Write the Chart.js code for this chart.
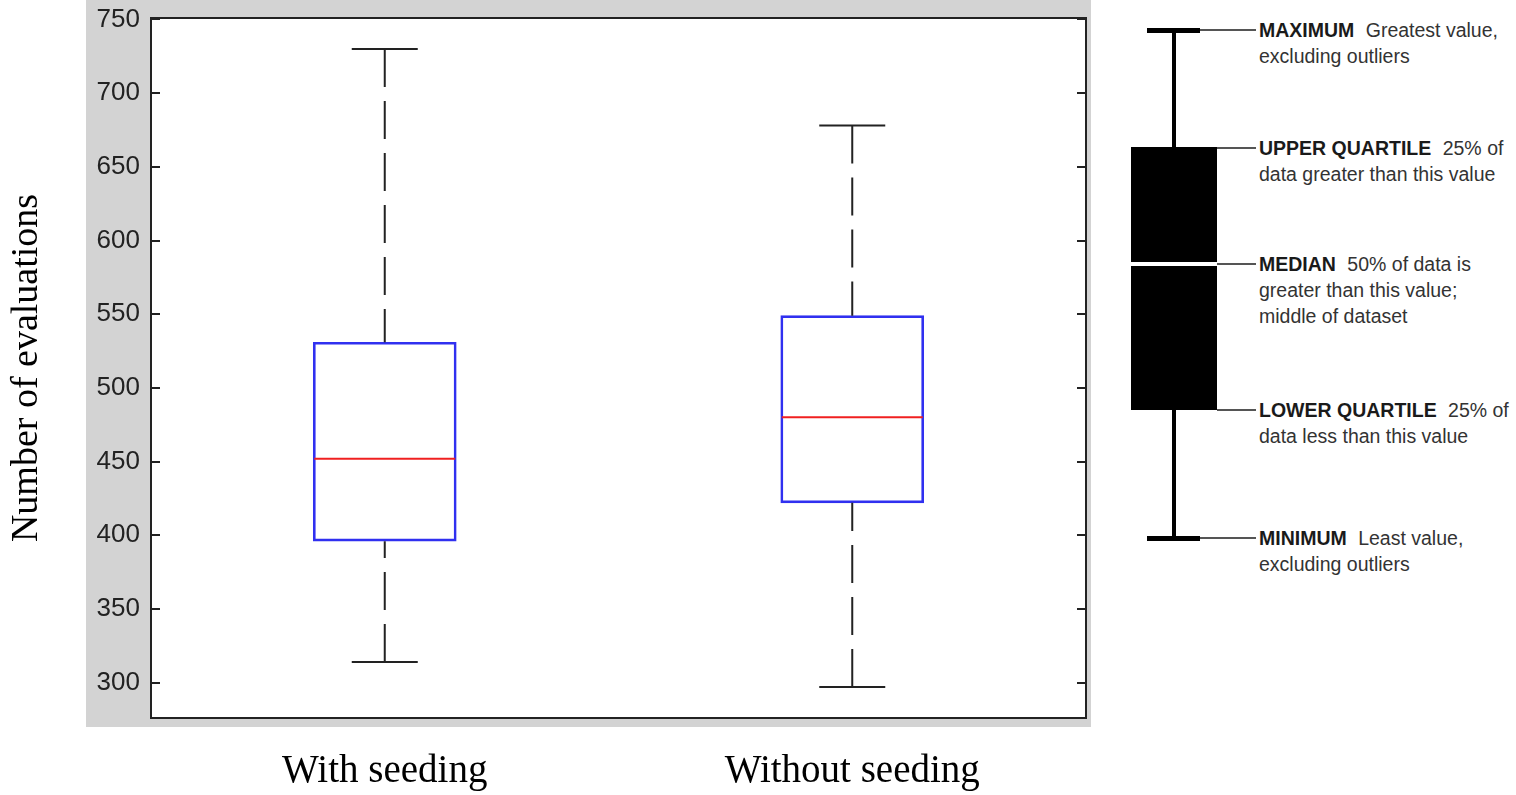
<!DOCTYPE html>
<html>
<head>
<meta charset="utf-8">
<script src="https://cdn.jsdelivr.net/npm/chart.js@4"></script>
<style>
  body { margin: 0; background: #fff; width: 1516px; height: 795px; overflow: hidden; position: relative; }
  #wrap { position: absolute; left: 0; top: 0; width: 1100px; height: 795px; }
  .key div { position: absolute; }
  .blk { background: #000; }
  .wire { background: #555; height: 2px; }
  .note { font-family: "Liberation Sans", Arial, sans-serif; font-size: 19.5px; line-height: 26px; color: #333; white-space: nowrap; }
  .note b { color: #1a1a1a; margin-right: 6px; }
</style>
</head>
<body>
<div id="wrap"><canvas id="myChart"></canvas></div>

<!-- box plot key on the right -->
<div class="key">
  <div class="blk" style="left:1172px;top:30px;width:4px;height:508px"></div>
  <div class="blk" style="left:1147px;top:28px;width:53px;height:5px"></div>
  <div class="blk" style="left:1147px;top:536px;width:53px;height:5px"></div>
  <div class="blk" style="left:1131px;top:147px;width:86px;height:263px"></div>
  <div style="left:1131px;top:262px;width:86px;height:4px;background:#fff"></div>

  <div class="wire" style="left:1200px;top:29px;width:56px"></div>
  <div class="wire" style="left:1217px;top:147px;width:39px"></div>
  <div class="wire" style="left:1217px;top:263px;width:39px"></div>
  <div class="wire" style="left:1217px;top:409px;width:39px"></div>
  <div class="wire" style="left:1200px;top:537px;width:56px"></div>

  <div class="note" style="left:1259px;top:17px"><b>MAXIMUM</b> Greatest value,<br>excluding outliers</div>
  <div class="note" style="left:1259px;top:135px"><b>UPPER QUARTILE</b> 25% of<br>data greater than this value</div>
  <div class="note" style="left:1259px;top:251px"><b>MEDIAN</b> 50% of data is<br>greater than this value;<br>middle of dataset</div>
  <div class="note" style="left:1259px;top:397px"><b>LOWER QUARTILE</b> 25% of<br>data less than this value</div>
  <div class="note" style="left:1259px;top:525px"><b>MINIMUM</b> Least value,<br>excluding outliers</div>
</div>

<script>
const categories = ['With seeding', 'Without seeding'];
const whiskerMax = [730, 678];
const upperQuartile = [531, 549];
const median = [452, 480];
const lowerQuartile = [396, 422];
const whiskerMin = [314, 297];
const yTicks = [300, 350, 400, 450, 500, 550, 600, 650, 700, 750];

const BOX_WIDTH = 143;
const CAP_HALF = 33;

// grey figure background behind the white axes
const figureBackground = {
  id: 'figureBackground',
  beforeDraw(chart) {
    const { ctx, chartArea: a } = chart;
    ctx.save();
    ctx.fillStyle = '#d3d3d3';
    ctx.fillRect(a.left - 65, 0, a.right - a.left + 70, a.bottom + 9);
    ctx.fillStyle = '#fff';
    ctx.fillRect(a.left, a.top, a.right - a.left, a.bottom - a.top);
    ctx.restore();
  }
};

// whiskers, caps and median lines on top of the floating bars
const boxParts = {
  id: 'boxParts',
  afterDatasetsDraw(chart) {
    const { ctx } = chart;
    const x = chart.scales.x, y = chart.scales.y;
    ctx.save();
    for (let i = 0; i < categories.length; i++) {
      const cx = x.getPixelForValue(i);

      ctx.strokeStyle = '#222';
      ctx.lineWidth = 2;
      ctx.setLineDash([38, 14]);
      ctx.beginPath();
      ctx.moveTo(cx, y.getPixelForValue(whiskerMax[i]));
      ctx.lineTo(cx, y.getPixelForValue(upperQuartile[i]));
      ctx.moveTo(cx, y.getPixelForValue(whiskerMin[i]));
      ctx.lineTo(cx, y.getPixelForValue(lowerQuartile[i]));
      ctx.stroke();

      ctx.setLineDash([]);
      ctx.beginPath();
      for (const v of [whiskerMax[i], whiskerMin[i]]) {
        const py = y.getPixelForValue(v);
        ctx.moveTo(cx - CAP_HALF, py);
        ctx.lineTo(cx + CAP_HALF, py);
      }
      ctx.stroke();

      ctx.strokeStyle = '#f02020';
      const my = y.getPixelForValue(median[i]);
      ctx.beginPath();
      ctx.moveTo(cx - BOX_WIDTH / 2 + 1, my);
      ctx.lineTo(cx + BOX_WIDTH / 2 - 1, my);
      ctx.stroke();
    }
    ctx.restore();
  }
};

// axes frame with inward ticks on both sides
const axesFrame = {
  id: 'axesFrame',
  afterDraw(chart) {
    const { ctx, chartArea: a } = chart;
    const y = chart.scales.y;
    ctx.save();
    ctx.strokeStyle = '#222';
    ctx.lineWidth = 2;
    ctx.strokeRect(a.left, a.top, a.right - a.left, a.bottom - a.top);
    ctx.beginPath();
    yTicks.forEach(v => {
      const py = Math.round(y.getPixelForValue(v));
      ctx.moveTo(a.left, py);
      ctx.lineTo(a.left + 9, py);
      ctx.moveTo(a.right, py);
      ctx.lineTo(a.right - 9, py);
    });
    ctx.stroke();
    ctx.restore();
  }
};

const ctx = document.getElementById('myChart').getContext('2d');
new Chart(ctx, {
  type: 'bar',
  data: {
    labels: categories,
    datasets: [{
      data: categories.map((c, i) => [lowerQuartile[i], upperQuartile[i]]),
      backgroundColor: 'rgba(255,255,255,0)',
      borderColor: '#3030f0',
      borderWidth: 2,
      borderSkipped: false,
      barThickness: BOX_WIDTH
    }]
  },
  options: {
    responsive: true,
    maintainAspectRatio: false,
    animation: false,
    devicePixelRatio: 1,
    layout: { padding: { top: 18, right: 14, left: 0, bottom: 0 } },
    scales: {
      x: {
        grid: { display: false, drawTicks: false },
        border: { display: false },
        ticks: {
          padding: 30,
          color: '#000',
          font: { family: '"Liberation Serif", "Times New Roman", serif', size: 39 }
        },
        afterFit(scale) { scale.height = 77; }
      },
      y: {
        min: 276,
        max: 751,
        grid: { display: false, drawTicks: false },
        border: { display: false },
        afterBuildTicks(scale) { scale.ticks = yTicks.map(v => ({ value: v })); },
        ticks: {
          padding: 11,
          color: '#222',
          font: { family: '"Liberation Sans", Arial, sans-serif', size: 26 }
        },
        title: {
          display: true,
          text: 'Number of evaluations',
          color: '#000',
          padding: { top: 4, bottom: 0 },
          font: { family: '"Liberation Serif", "Times New Roman", serif', size: 38 }
        },
        afterFit(scale) {
          scale.width = 151;
          scale.paddingTop = 0;
          scale.paddingBottom = 0;
        }
      }
    },
    plugins: {
      legend: { display: false },
      tooltip: { enabled: false }
    }
  },
  plugins: [figureBackground, boxParts, axesFrame]
});
</script>
</body>
</html>
